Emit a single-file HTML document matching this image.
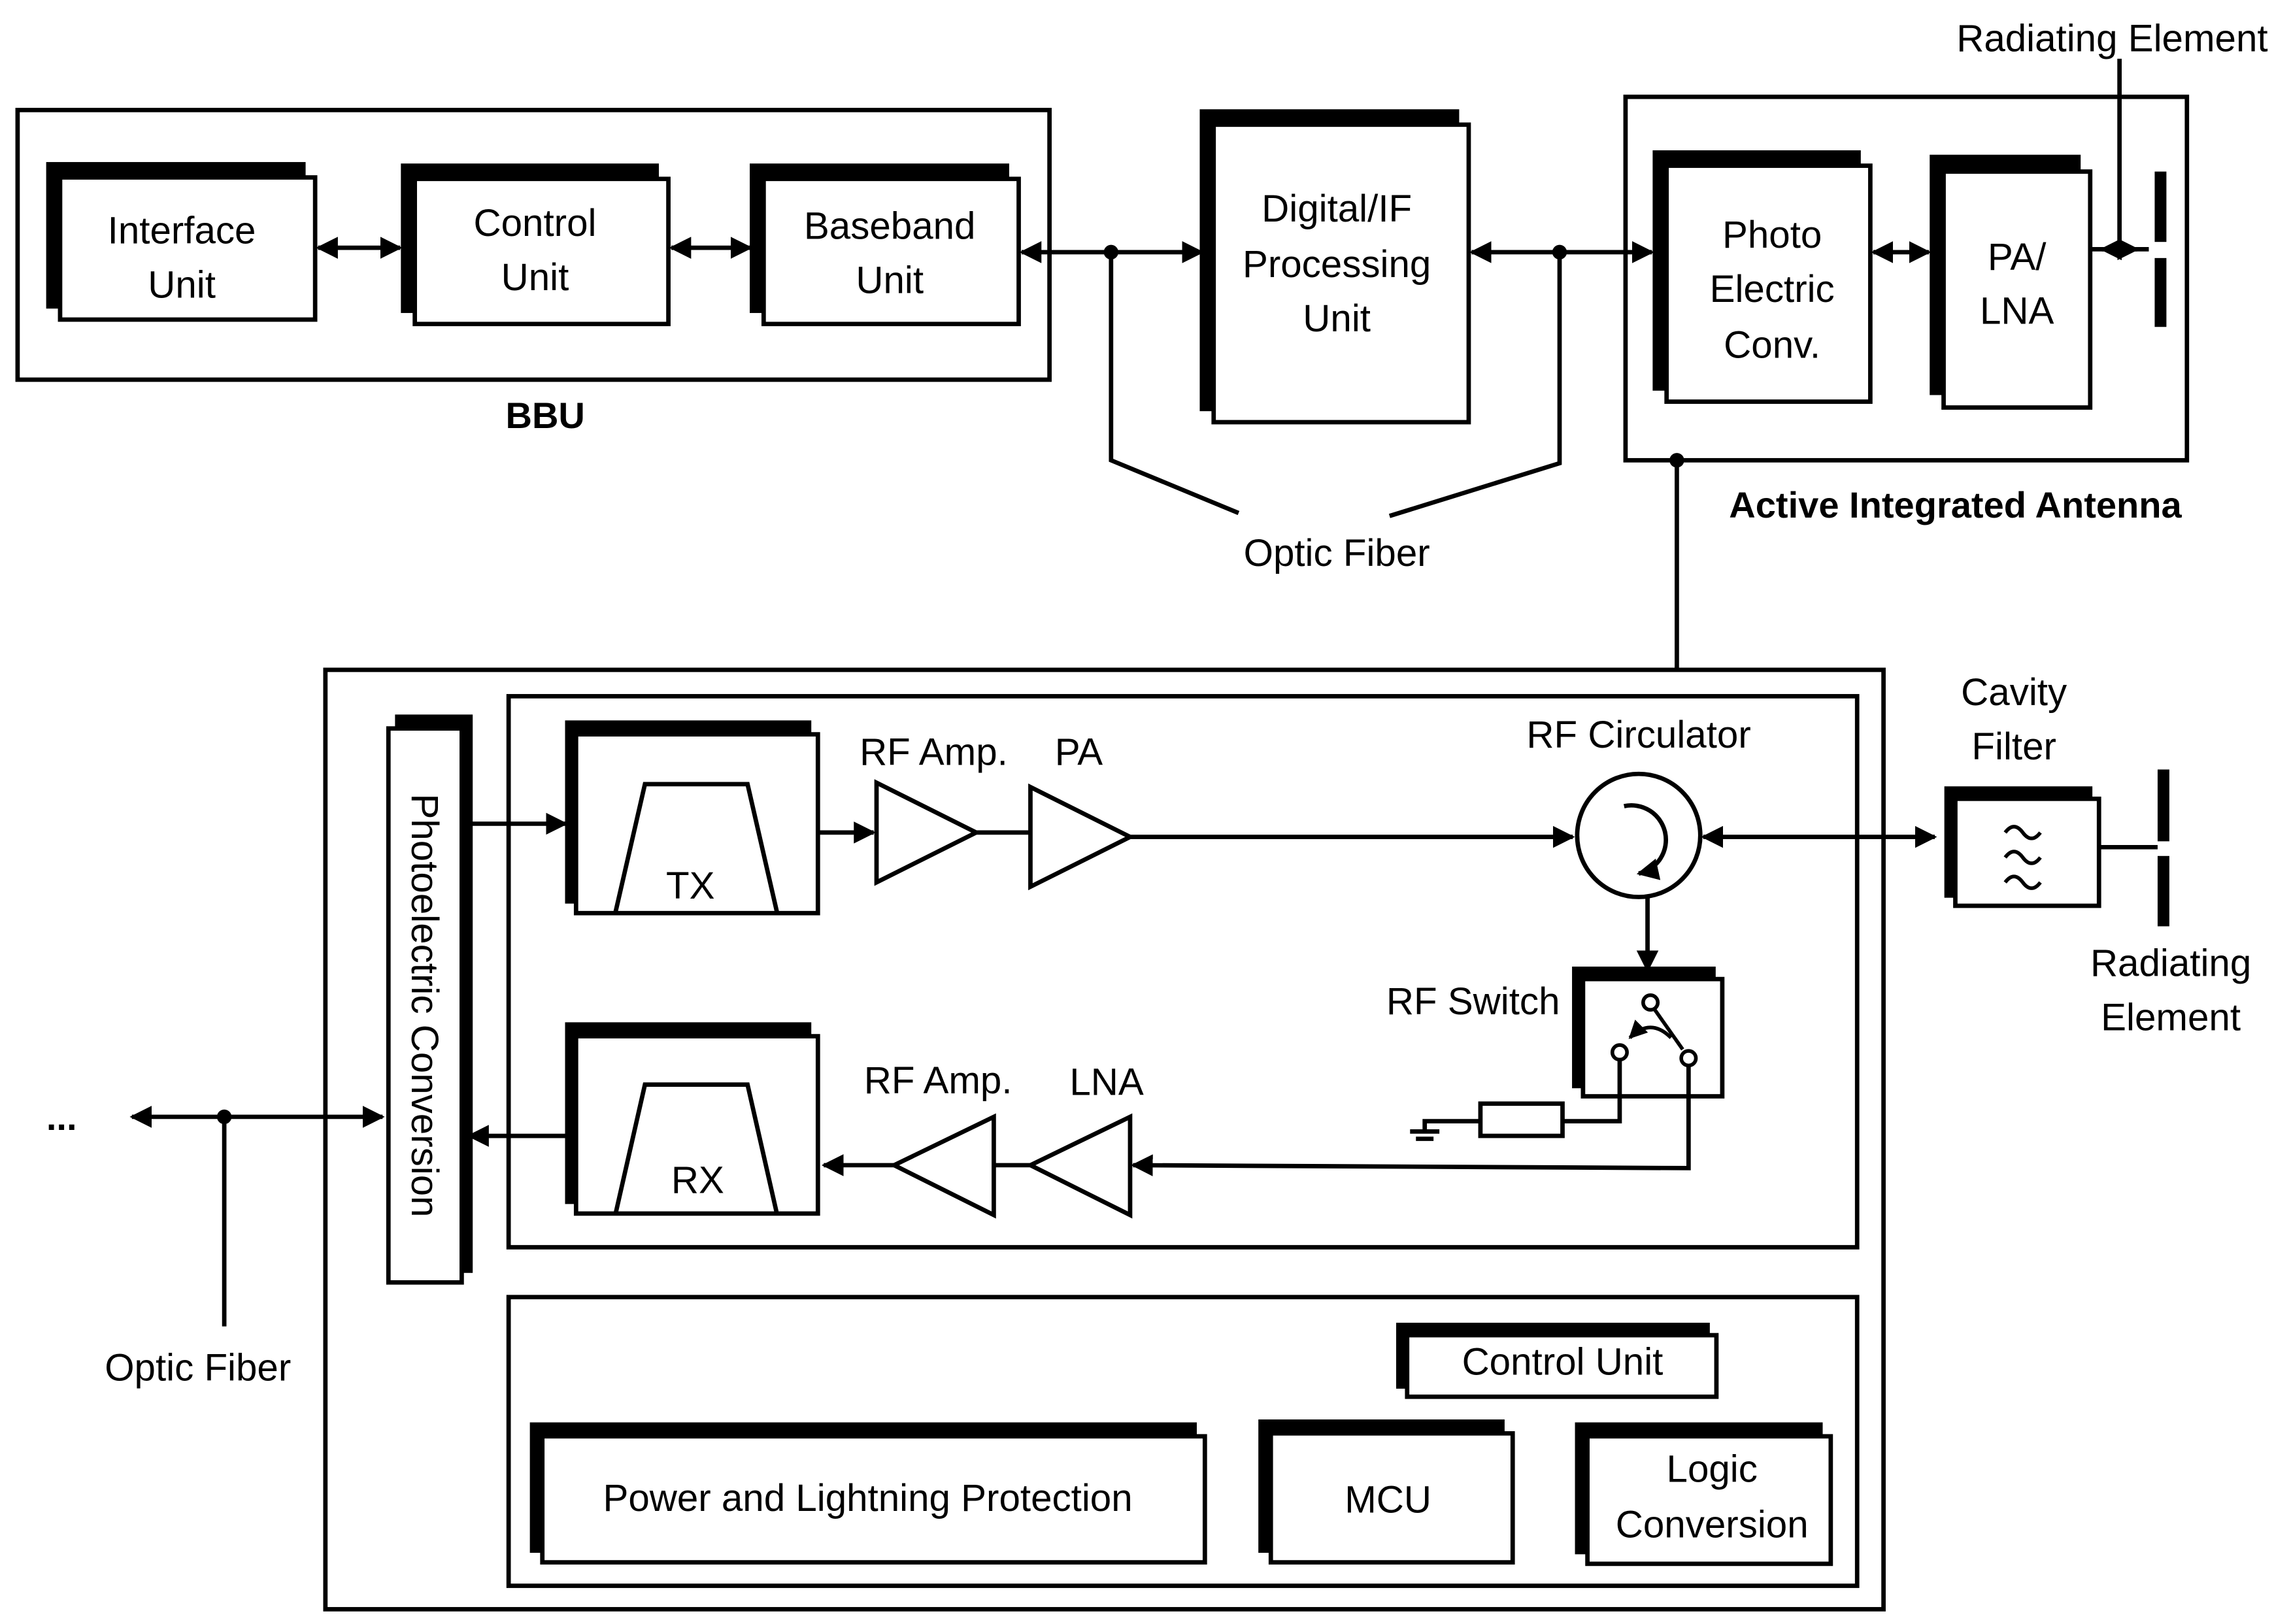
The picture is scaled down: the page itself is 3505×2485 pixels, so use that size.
<!DOCTYPE html>
<html><head><meta charset="utf-8"><style>
html,body{margin:0;padding:0;background:#fff;}
svg{display:block}
text{font-family:"Liberation Sans",sans-serif;font-size:26px;fill:#000;}
.b{font-weight:bold;font-size:25px}
</style></head><body>
<svg width="3505" height="2485" viewBox="0 0 1563 1108" xmlns="http://www.w3.org/2000/svg">
<defs>
<marker id="a" viewBox="0 0 10 10" refX="9" refY="5" markerWidth="5" markerHeight="5" orient="auto-start-reverse"><path d="M0,0L10,5L0,10z" fill="#000"/></marker>
</defs>
<rect width="1563" height="1108" fill="#fff"/>
<g fill="none" stroke="#000" stroke-width="3">
<!-- BBU -->
<rect x="12" y="75" width="704" height="184"/>
<rect x="1109" y="66" width="383" height="248"/>
<rect x="222" y="457" width="1063" height="641"/>
<rect x="347" y="475" width="920" height="376"/>
<rect x="347" y="885" width="920" height="197"/>
</g>
<!-- stacked boxes -->
<g stroke="#000" stroke-width="3">
<rect x="33" y="112" width="174" height="97" fill="#000"/><rect x="41" y="121" width="174" height="97" fill="#fff"/>
<rect x="275" y="113" width="173" height="99" fill="#000"/><rect x="283" y="122" width="173" height="99" fill="#fff"/>
<rect x="513" y="113" width="174" height="99" fill="#000"/><rect x="521" y="122" width="174" height="99" fill="#fff"/>
<rect x="820" y="76" width="174" height="203" fill="#000"/><rect x="828" y="85" width="174" height="203" fill="#fff"/>
<rect x="1129" y="104" width="139" height="161" fill="#000"/><rect x="1137" y="113" width="139" height="161" fill="#fff"/>
<rect x="1318" y="107" width="100" height="161" fill="#000"/><rect x="1326" y="117" width="100" height="161" fill="#fff"/>
<rect x="271" y="489" width="50" height="378" fill="#000"/><rect x="265" y="497" width="50" height="378" fill="#fff"/>
<rect x="387" y="493" width="165" height="122" fill="#000"/><rect x="393" y="501" width="165" height="122" fill="#fff"/>
<rect x="387" y="699" width="165" height="121" fill="#000"/><rect x="393" y="707" width="165" height="121" fill="#fff"/>
<rect x="1328" y="538" width="98" height="73" fill="#000"/><rect x="1334" y="545" width="98" height="73" fill="#fff"/>
<rect x="1074" y="661" width="95" height="80" fill="#000"/><rect x="1080" y="668" width="95" height="80" fill="#fff"/>
<rect x="954" y="904" width="211" height="42" fill="#000"/><rect x="960" y="911" width="211" height="42" fill="#fff"/>
<rect x="363" y="972" width="452" height="86" fill="#000"/><rect x="370" y="980" width="452" height="86" fill="#fff"/>
<rect x="860" y="970" width="165" height="88" fill="#000"/><rect x="867" y="978" width="165" height="88" fill="#fff"/>
<rect x="1076" y="972" width="166" height="87" fill="#000"/><rect x="1083" y="980" width="166" height="87" fill="#fff"/>
</g>
<g fill="none" stroke="#000" stroke-width="3">
<!-- top arrows -->
<line x1="217" y1="169" x2="273" y2="169" marker-start="url(#a)" marker-end="url(#a)"/>
<line x1="458" y1="169" x2="512" y2="169" marker-start="url(#a)" marker-end="url(#a)"/>
<line x1="697" y1="172" x2="820" y2="172" marker-start="url(#a)" marker-end="url(#a)"/>
<line x1="1004" y1="172" x2="1127" y2="172" marker-start="url(#a)" marker-end="url(#a)"/>
<line x1="1278" y1="172" x2="1316" y2="172" marker-start="url(#a)" marker-end="url(#a)"/>
<line x1="1426" y1="170" x2="1466" y2="170"/>
<line x1="1434" y1="170" x2="1458" y2="170" marker-start="url(#a)" marker-end="url(#a)"/>
<line x1="1446" y1="170" x2="1446" y2="40"/>
<polyline points="758,172 758,314 845,350"/>
<polyline points="1064,172 1064,316 948,352"/>
<line x1="1144" y1="314" x2="1144" y2="457"/>
<!-- inner -->
<line x1="315" y1="562" x2="386" y2="562" marker-end="url(#a)"/>
<line x1="391" y1="775" x2="320" y2="775" marker-end="url(#a)"/>
<polyline points="420,622 440,535 510,535 530,622"/>
<polyline points="420,828 440,740 510,740 530,828"/>
<line x1="558" y1="568" x2="596" y2="568" marker-end="url(#a)"/>
<polygon points="598,534 598,602 666,568"/>
<line x1="666" y1="568" x2="703" y2="568"/>
<polygon points="703,537 703,605 771,571"/>
<line x1="771" y1="571" x2="1073" y2="571" marker-end="url(#a)"/>
<circle cx="1118" cy="570" r="42"/>
<path d="M1108,550 A22,22 0 1 1 1118,596" marker-end="url(#a)"/>
<line x1="1162" y1="571" x2="1320" y2="571" marker-start="url(#a)" marker-end="url(#a)"/>
<line x1="1432" y1="578" x2="1472" y2="578"/>
<line x1="1124" y1="612" x2="1124" y2="662" marker-end="url(#a)"/>
<circle cx="1126" cy="684" r="5" stroke-width="2.5"/>
<circle cx="1105" cy="718" r="5" stroke-width="2.5"/>
<circle cx="1152" cy="722" r="5" stroke-width="2.5"/>
<line x1="1129" y1="689" x2="1148" y2="716" stroke-width="2.5"/>
<path d="M1112,708 Q1126,694 1140,708" stroke-width="2.5" marker-start="url(#a)"/>
<polyline points="1105,723 1105,765 1066,765"/>
<rect x="1010" y="753" width="56" height="22"/>
<polyline points="1010,765 972,765 972,772"/>
<line x1="962" y1="772" x2="982" y2="772"/>
<line x1="966" y1="777" x2="978" y2="777"/>
<polyline points="1152,727 1152,797 773,795" marker-end="url(#a)"/>
<polygon points="771,762 771,829 703,795"/>
<line x1="703" y1="795" x2="678" y2="795"/>
<polygon points="678,762 678,829 610,795"/>
<line x1="610" y1="795" x2="562" y2="795" marker-end="url(#a)"/>
<line x1="90" y1="762" x2="261" y2="762" marker-start="url(#a)" marker-end="url(#a)"/>
<line x1="153" y1="762" x2="153" y2="905"/>
<path d="M1368,568 q6,-8 12,0 t12,0 M1368,585 q6,-8 12,0 t12,0 M1368,602 q6,-8 12,0 t12,0" stroke-width="2.5"/>
</g>
<!-- radiating bars & dots -->
<g fill="#000">
<rect x="1470" y="117" width="8" height="48"/><rect x="1470" y="176" width="8" height="47"/>
<rect x="1472" y="525" width="8" height="49"/><rect x="1472" y="584" width="8" height="48"/>
<circle cx="758" cy="172" r="5"/><circle cx="1064" cy="172" r="5"/><circle cx="1446" cy="170" r="5"/>
<circle cx="1144" cy="314" r="5"/><circle cx="153" cy="762" r="5"/>
</g>
<g text-anchor="middle">
<text x="124" y="166">Interface</text><text x="124" y="203">Unit</text>
<text x="365" y="161">Control</text><text x="365" y="198">Unit</text>
<text x="607" y="163">Baseband</text><text x="607" y="200">Unit</text>
<text x="912" y="151">Digital/IF</text><text x="912" y="189">Processing</text><text x="912" y="226">Unit</text>
<text x="1209" y="169">Photo</text><text x="1209" y="206">Electric</text><text x="1209" y="244">Conv.</text>
<text x="1376" y="184">PA/</text><text x="1376" y="221">LNA</text>
<text x="1441" y="35">Radiating Element</text>
<text class="b" x="372" y="292">BBU</text>
<text class="b" x="1334" y="353">Active Integrated Antenna</text>
<text x="912" y="386">Optic Fiber</text>
<text x="471" y="613">TX</text><text x="476" y="814">RX</text>
<text x="637" y="522">RF Amp.</text><text x="736" y="522">PA</text>
<text x="1118" y="510">RF Circulator</text>
<text x="1374" y="481">Cavity</text><text x="1374" y="518">Filter</text>
<text x="1481" y="666">Radiating</text><text x="1481" y="703">Element</text>
<text x="1005" y="692">RF Switch</text>
<text x="640" y="746">RF Amp.</text><text x="755" y="747">LNA</text>
<text x="42" y="771" class="b">...</text>
<text x="135" y="942">Optic Fiber</text>
<text x="1066" y="938">Control Unit</text>
<text x="592" y="1031">Power and Lightning Protection</text>
<text x="947" y="1032">MCU</text>
<text x="1168" y="1011">Logic</text><text x="1168" y="1049">Conversion</text>
<text transform="translate(281,686) rotate(90)">Photoelectric Conversion</text>
</g>
</svg>
</body></html>
